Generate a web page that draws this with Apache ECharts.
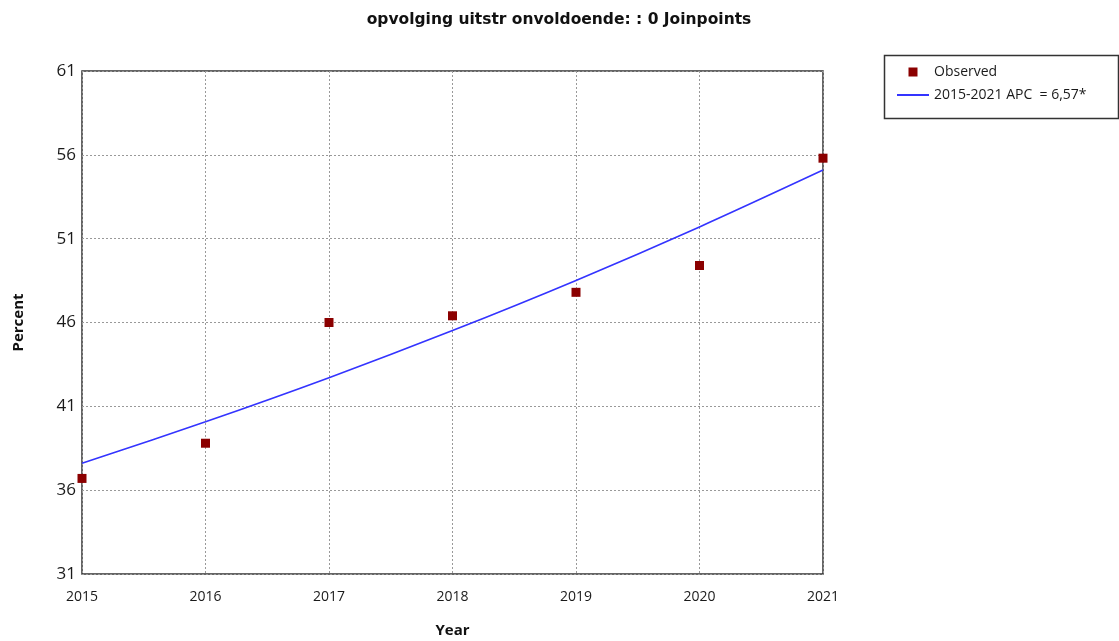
<!DOCTYPE html>
<html>
<head>
<meta charset="utf-8">
<script src="https://cdn.jsdelivr.net/npm/echarts@6/dist/echarts.min.js"></script>
<style>
  html, body { margin: 0; padding: 0; background: #fff; }
  #chart { width: 1119px; height: 641px; }
</style>
</head>
<body>
<div id="chart"></div>
<script>
// Observed percentages per year and the fitted joinpoint trend (APC 6,57%)
const years = [2015, 2016, 2017, 2018, 2019, 2020, 2021];
const observed = [36.7, 38.8, 46.0, 46.4, 47.8, 49.4, 55.8];
const fitted = [37.6, 40.08, 42.71, 45.52, 48.51, 51.70, 55.09];
const yTicks = [31, 36, 41, 46, 51, 56, 61];

const FONT = '"Open Sans", "Noto Sans", sans-serif';
const TITLE_FONT = '"DejaVu Sans", sans-serif';

const chart = echarts.init(document.getElementById('chart'));
chart.setOption({
  animation: false,
  backgroundColor: '#fff',
  title: {
    text: 'opvolging uitstr onvoldoende: : 0 Joinpoints',
    left: 554, top: 7, textAlign: 'center',
    textStyle: { fontFamily: TITLE_FONT, fontSize: 15.5, fontWeight: 'bold', color: '#111' }
  },
  grid: {
    left: 82, right: 296, top: 71, bottom: 67,
    outerBoundsMode: 'none', containLabel: false,
    show: true, borderColor: '#333', borderWidth: 1.5, backgroundColor: '#fff'
  },
  legend: {
    orient: 'vertical', left: 897, top: 65, itemGap: 9,
    itemWidth: 32, itemHeight: 9, padding: 0,
    textStyle: { fontFamily: FONT, fontSize: 14, color: '#1a1a1a' },
    data: [
      { name: 'Observed', icon: 'path://M0,0L1,0L1,1L0,1Z' },
      { name: '2015-2021 APC  = 6,57*', icon: 'path://M0,0L32,0L32,2L0,2Z' }
    ]
  },
  graphic: [{
    type: 'rect', left: 882, top: 53,
    shape: { width: 234, height: 63 },
    style: { fill: 'none', stroke: '#333', lineWidth: 1.5 },
    z: 100
  }],
  xAxis: {
    type: 'value', min: years[0], max: years[years.length - 1], interval: 1,
    name: 'Year', nameLocation: 'middle', nameGap: 49,
    nameTextStyle: { fontFamily: FONT, fontSize: 15, fontWeight: 'bold', color: '#111' },
    axisLine: { show: false }, axisTick: { show: false },
    axisLabel: { fontFamily: FONT, fontSize: 14, color: '#1a1a1a', margin: 16, formatter: v => String(v) },
    splitLine: { show: true, lineStyle: { color: '#999', type: [2, 2], width: 1 } }
  },
  yAxis: {
    type: 'value', min: yTicks[0], max: yTicks[yTicks.length - 1], interval: 5,
    name: 'Percent', nameLocation: 'middle', nameGap: 56,
    nameTextStyle: { fontFamily: FONT, fontSize: 15, fontWeight: 'bold', color: '#111' },
    axisLine: { show: false }, axisTick: { show: false },
    axisLabel: { fontFamily: FONT, fontSize: 17, color: '#1a1a1a', margin: 6 },
    splitLine: { show: true, lineStyle: { color: '#999', type: [2, 2], width: 1 } }
  },
  series: [
    {
      name: '2015-2021 APC  = 6,57*',
      type: 'line',
      data: years.map((y, i) => [y, fitted[i]]),
      smooth: 0.3,
      showSymbol: false, symbol: 'none',
      lineStyle: { color: '#3434ff', width: 1.6 },
      itemStyle: { color: '#3434ff' },
      z: 3
    },
    {
      name: 'Observed',
      type: 'scatter',
      data: years.map((y, i) => [y, observed[i]]),
      symbol: 'rect', symbolSize: 9,
      itemStyle: { color: '#8b0000', opacity: 1 },
      z: 4
    }
  ]
});
</script>
</body>
</html>
